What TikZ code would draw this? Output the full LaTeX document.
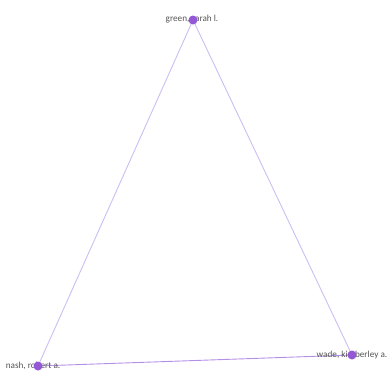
\documentclass[tikz,border=0pt]{standalone}
\usepackage{fontspec}
\setmainfont{Carlito}
\usetikzlibrary{backgrounds}
\definecolor{dotc}{HTML}{9457D6}
\definecolor{edgec}{HTML}{CDBDF2}
\definecolor{edgeb}{HTML}{B48FE6}
\definecolor{txt}{HTML}{555555}
\tikzset{
  lbl/.style={font=\fontsize{9.2}{10}\selectfont, text=txt, inner sep=0pt},
  dot/.style={circle, fill=dotc, draw=none, minimum size=9pt, inner sep=0pt},
  edge/.style={draw=edgec, line width=0.9pt}
}
\begin{document}
\begin{tikzpicture}[x=1pt,y=-1pt]
\useasboundingbox (0,0) rectangle (390,372);
\node[lbl] (gl) at (192,19) {green, sarah l.};
\node[lbl] (nl) at (33,366) {nash, robert a.};
\node[lbl] (wl) at (352,355) {wade, kimberley a.};
\node[dot] (g) at (193,20) {};
\node[dot] (n) at (38,366) {};
\node[dot] (w) at (352,355) {};
\begin{scope}[on background layer]
\draw[edge] (g.center) -- (n.center);
\draw[edge] (g.center) -- (w.center);
\draw[edge, draw=edgeb] (n.center) -- (w.center);
\end{scope}
\end{tikzpicture}
\end{document}
